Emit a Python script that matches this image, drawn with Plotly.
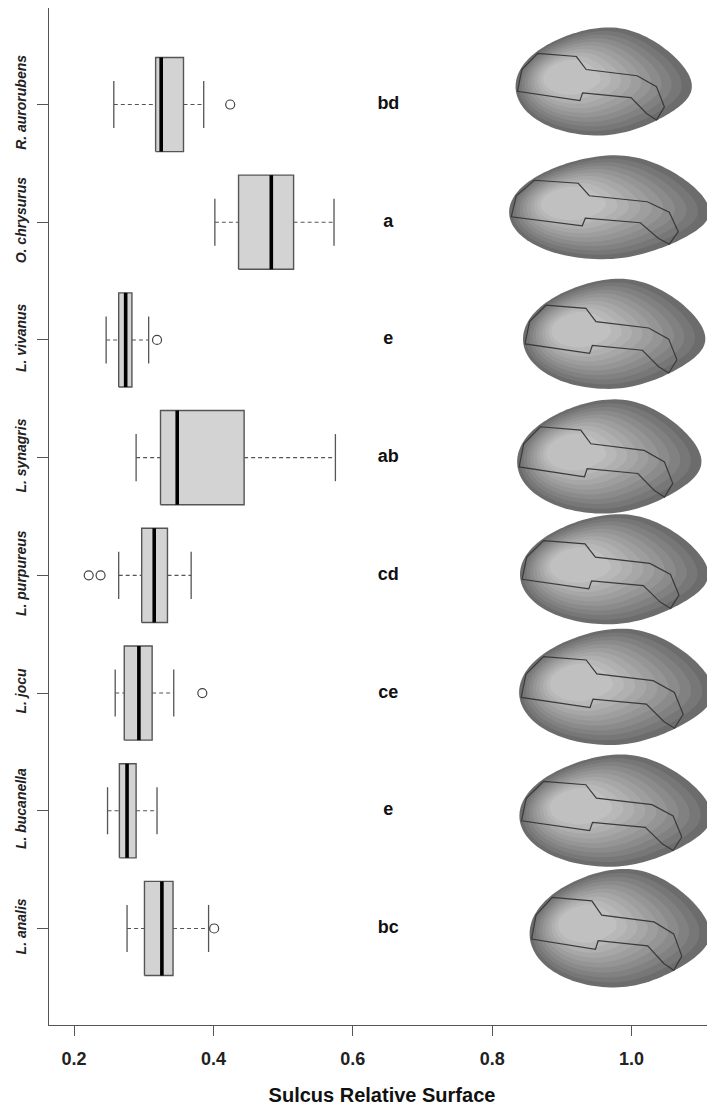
import numpy as np
import plotly.graph_objects as go

# ---------------- data ----------------
species = ["R. aurorubens", "O. chrysurus", "L. vivanus", "L. synagris",
           "L. purpureus", "L. jocu", "L. bucanella", "L. analis"]
lower_whisker = [0.257, 0.402, 0.246, 0.289, 0.264, 0.259, 0.248, 0.276]
q1 = [0.317, 0.436, 0.264, 0.324, 0.297, 0.272, 0.265, 0.301]
median = [0.325, 0.483, 0.274, 0.348, 0.315, 0.293, 0.276, 0.326]
q3 = [0.357, 0.515, 0.283, 0.444, 0.334, 0.312, 0.289, 0.342]
upper_whisker = [0.386, 0.573, 0.307, 0.575, 0.368, 0.343, 0.319, 0.393]
outliers = [[0.424], [], [0.319], [], [0.221, 0.238], [0.384], [], [0.401]]
letters = ["bd", "a", "e", "ab", "cd", "ce", "e", "bc"]
x_ticks = [0.2, 0.4, 0.6, 0.8, 1.0]
x_tick_labels = ["0.2", "0.4", "0.6", "0.8", "1.0"]

# ---------------- style ----------------
FONT = "Liberation Sans, Arial, sans-serif"
n = len(species)
pos = [n - i for i in range(n)]          # top row = n
BOX_HALF = 0.4
CAP_HALF = 0.2
LETTER_X = 0.651
EDGE = "#555555"

fig = go.Figure()

# whiskers (dashed)
wx, wy = [], []
for p, lw, a, b, uw in zip(pos, lower_whisker, q1, q3, upper_whisker):
    wx += [lw, a, None, b, uw, None]
    wy += [p, p, None, p, p, None]
fig.add_trace(go.Scatter(x=wx, y=wy, mode="lines",
                         line=dict(color=EDGE, width=1.1, dash="4px,3px"),
                         hoverinfo="skip"))

# whisker caps
cx, cy = [], []
for p, lw, uw in zip(pos, lower_whisker, upper_whisker):
    cx += [lw, lw, None, uw, uw, None]
    cy += [p - CAP_HALF, p + CAP_HALF, None, p - CAP_HALF, p + CAP_HALF, None]
fig.add_trace(go.Scatter(x=cx, y=cy, mode="lines",
                         line=dict(color=EDGE, width=1.3), hoverinfo="skip"))

# boxes
bx, by = [], []
for p, a, b in zip(pos, q1, q3):
    bx += [a, b, b, a, a, None]
    by += [p - BOX_HALF, p - BOX_HALF, p + BOX_HALF, p + BOX_HALF, p - BOX_HALF, None]
fig.add_trace(go.Scatter(x=bx, y=by, mode="lines", fill="toself",
                         fillcolor="#d3d3d3",
                         line=dict(color=EDGE, width=1.4), hoverinfo="skip"))

# medians
mx, my = [], []
for p, m in zip(pos, median):
    mx += [m, m, None]
    my += [p - BOX_HALF, p + BOX_HALF, None]
fig.add_trace(go.Scatter(x=mx, y=my, mode="lines",
                         line=dict(color="black", width=3.6), hoverinfo="skip"))

# outliers
ox, oy = [], []
for p, outs in zip(pos, outliers):
    for o in outs:
        ox.append(o)
        oy.append(p)
fig.add_trace(go.Scatter(x=ox, y=oy, mode="markers",
                         marker=dict(symbol="circle-open", size=9,
                                     line=dict(color="#444444", width=1.2),
                                     color="#444444"),
                         hoverinfo="skip"))

# significance letters
fig.add_trace(go.Scatter(x=[LETTER_X] * n, y=pos, mode="text", text=letters,
                         textfont=dict(family=FONT, size=18, color="#111111",
                                       weight="bold"),
                         hoverinfo="skip"))

# ---------------- decorative otolith silhouettes ----------------
PX_X = 697.0   # pixels per x unit
PX_Y = 117.8   # pixels per y unit
oto = [  # (centre x, y offset px, half width px, half height px)
    (0.960, -21, 88, 52),
    (0.968, -13, 100, 50),
    (0.975, -4, 91, 53),
    (0.968, 1, 92, 55),
    (0.975, -4, 94, 53),
    (0.978, -4, 97, 56),
    (0.977, 2, 96, 54),
    (0.983, 2, 90, 57),
]
sulcus_u = [-0.75, -0.31, -0.2, 0.38, 0.6, 0.69, 0.6, 0.49, 0.31, -0.24,
            -0.27, -0.98, -0.93]
sulcus_w = [0.58, 0.52, 0.27, 0.15, -0.06, -0.45, -0.7, -0.58, -0.27, -0.18,
            -0.33, -0.15, 0.27]
layer_cols = ["#6c6c6c", "#777777", "#818181", "#8b8b8b", "#959595",
              "#9e9e9e", "#a7a7a7", "#b0b0b0", "#b8b8b8", "#c0c0c0"]
t = np.linspace(0, 2 * np.pi, 140, endpoint=False)
c, s_ = np.cos(t), np.sin(t)
cp = np.clip(c, 0, None)
# blunt left end, pointed right end, top bulge near the centre
base_u = c + 0.06 * s_
base_w = (s_ * (1 - 0.25 * cp ** 2)
          + 0.08 * (s_ > 0) * np.exp(-(c / 0.55) ** 2)
          - 0.10 * cp ** 3)
shapes = []
for p, (ocx, ody, hw, hh) in zip(pos, oto):
    ocy = p - ody / PX_Y
    ax_ = hw / PX_X
    ay_ = hh / PX_Y
    for k, col in enumerate(layer_cols):
        sc = 1 - k * 0.075
        du = -k * 0.04
        dw = k * 0.012
        xs = ocx + (base_u * sc + du) * ax_
        ys = ocy + (base_w * sc + dw) * ay_
        path = "M " + " L ".join(f"{x:.5f},{y:.5f}" for x, y in zip(xs, ys)) + " Z"
        shapes.append(dict(type="path", path=path, xref="x", yref="y",
                           fillcolor=col, line=dict(width=0), layer="below"))
    xs = [ocx + u * ax_ for u in sulcus_u]
    ys = [ocy + w * ay_ for w in sulcus_w]
    path = "M " + " L ".join(f"{x:.5f},{y:.5f}" for x, y in zip(xs, ys)) + " Z"
    shapes.append(dict(type="path", path=path, xref="x", yref="y",
                       fillcolor="rgba(0,0,0,0)",
                       line=dict(color="#3a3a3a", width=1.2), layer="below"))

# the page adds an 8px body margin, so the figure is sized/offset to compensate
fig.update_layout(
    width=707, height=1098,
    margin=dict(l=41, r=0, t=0, b=81),
    plot_bgcolor="white", paper_bgcolor="white",
    showlegend=False,
    shapes=shapes,
    font=dict(family=FONT, color="#222222"),
    xaxis=dict(
        range=[0.164, 1.1197], tickvals=x_ticks, ticktext=x_tick_labels,
        automargin=False,
        showline=True, linecolor=EDGE, linewidth=1.3, mirror=True,
        ticks="outside", ticklen=10, tickcolor=EDGE, tickwidth=1.3,
        ticklabelstandoff=7,
        showgrid=False, zeroline=False,
        tickfont=dict(family=FONT, size=18, color="#222222", weight="bold"),
        title=dict(text="Sulcus Relative Surface", standoff=21,
                   font=dict(family=FONT, size=20, color="#111111", weight="bold")),
    ),
    yaxis=dict(
        range=[0.18, 8.82], tickvals=pos,
        ticktext=[f"<i>{s}</i>" for s in species],
        tickangle=-90, automargin=False,
        showline=True, linecolor=EDGE, linewidth=1.3,
        ticks="outside", ticklen=11, tickcolor=EDGE, tickwidth=1.3,
        ticklabelstandoff=5,
        showgrid=False, zeroline=False,
        tickfont=dict(family=FONT, size=14, color="#222222", weight="bold"),
    ),
)

fig.write_html("out.html")
